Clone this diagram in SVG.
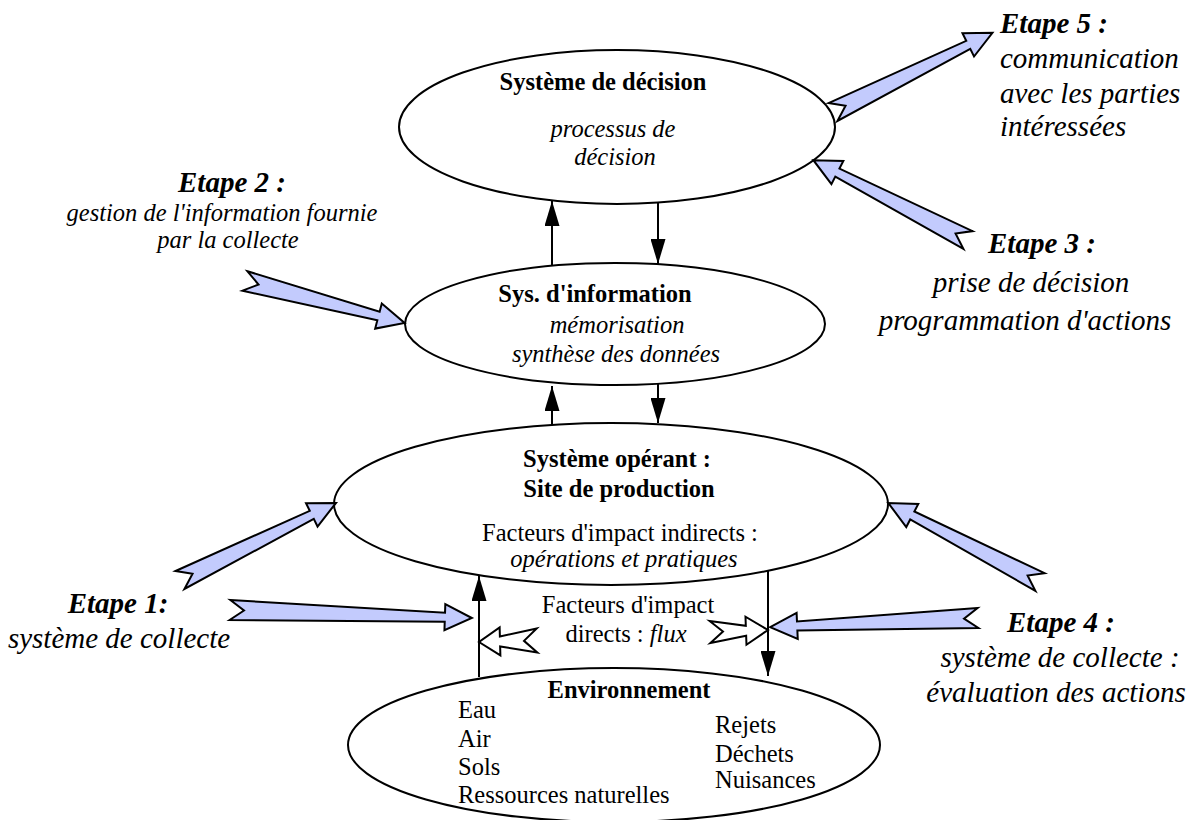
<svg xmlns="http://www.w3.org/2000/svg" width="1189" height="820" viewBox="0 0 1189 820">
<defs>
<style>
.ell{fill:#ffffff;stroke:#000000;stroke-width:2}
.t{font-family:'Liberation Serif',serif;font-size:24.5px;fill:#000000}
.e{font-family:'Liberation Serif',serif;font-size:29px;font-style:italic;fill:#000000}
.b{font-weight:bold}
.i{font-style:italic}
.m{text-anchor:middle}
.blue{fill:#c3cbfd;stroke:#000000;stroke-width:2;stroke-linejoin:miter}
.hollow{fill:#ffffff;stroke:#000000;stroke-width:2}
.ln{stroke:#000000;stroke-width:2;fill:none}
</style>
<marker id="ah" viewBox="0 0 10 10" refX="10" refY="5" markerWidth="25" markerHeight="15" markerUnits="userSpaceOnUse" orient="auto" preserveAspectRatio="none">
<path d="M0,0 L10,5 L0,10 Z" fill="#000000"/>
</marker>
</defs>
<rect width="1189" height="820" fill="#ffffff"/>

<g id="decision">
<ellipse class="ell" cx="617" cy="127" rx="218" ry="77"/>
<text class="t b m" x="603" y="90">Système de décision</text>
<text class="t i m" x="613" y="137">processus de</text>
<text class="t i m" x="615" y="165">décision</text>
</g>

<g id="information">
<ellipse class="ell" cx="615" cy="324" rx="210" ry="61"/>
<text class="t b m" x="595" y="302">Sys. d'information</text>
<text class="t i m" x="617" y="333">mémorisation</text>
<text class="t i m" x="616" y="362">synthèse des données</text>
</g>

<g id="operant">
<ellipse class="ell" cx="611" cy="504" rx="277" ry="81"/>
<text class="t b m" x="617" y="467">Système opérant :</text>
<text class="t b m" x="619" y="497">Site de production</text>
<text class="t m" x="620" y="541">Facteurs d'impact indirects :</text>
<text class="t i m" x="624" y="567">opérations et pratiques</text>
</g>

<g id="environnement">
<ellipse class="ell" cx="614" cy="745" rx="266" ry="77"/>
<text class="t b m" x="629" y="698">Environnement</text>
<text class="t" x="458" y="718">Eau</text>
<text class="t" x="458" y="747">Air</text>
<text class="t" x="458" y="775">Sols</text>
<text class="t" x="458" y="803">Ressources naturelles</text>
<text class="t" x="715" y="733">Rejets</text>
<text class="t" x="715" y="762">Déchets</text>
<text class="t" x="715" y="788">Nuisances</text>
</g>

<g id="flux">
<text class="t m" x="628" y="613">Facteurs d'impact</text>
<text class="t m" x="626" y="642">directs : <tspan class="i">flux</tspan></text>
</g>

<g id="connectors">
<line class="ln" x1="552" y1="265" x2="552" y2="201" marker-end="url(#ah)"/>
<line class="ln" x1="658" y1="203" x2="658" y2="264" marker-end="url(#ah)"/>
<line class="ln" x1="552" y1="424" x2="552" y2="386" marker-end="url(#ah)"/>
<line class="ln" x1="658" y1="384" x2="658" y2="423" marker-end="url(#ah)"/>
<line class="ln" x1="479" y1="677" x2="479" y2="576" marker-end="url(#ah)"/>
<line class="ln" x1="768" y1="571" x2="768" y2="676" marker-end="url(#ah)"/>
<polygon class="hollow" transform="translate(537,640.5) rotate(178.5)" points="0,-12 37,-5 37,-14 58,0 37,14 37,5 0,12 13,0"/>
<polygon class="hollow" transform="translate(710,632) rotate(-2)" points="0,-11 36,-5 36,-14 58,0 36,14 36,5 0,11 13,0"/>
<polygon class="blue" transform="translate(833,112) rotate(-26.4)" points="0,-10 151,-4.5 151,-13 178,0 151,13 151,4.5 0,10 14,0"/>
<polygon class="blue" transform="translate(968,240) rotate(-152.7)" points="0,-10 147,-4.5 147,-13 174,0 147,13 147,4.5 0,10 14,0"/>
<polygon class="blue" transform="translate(245,281) rotate(14.7)" points="0,-10 138,-4.5 138,-13 165,0 138,13 138,4.5 0,10 14,0"/>
<polygon class="blue" transform="translate(180,580) rotate(-26.3)" points="0,-10 147,-4.5 147,-13 174,0 147,13 147,4.5 0,10 14,0"/>
<polygon class="blue" transform="translate(230,610) rotate(1.9)" points="0,-10 215,-4.5 215,-13 242,0 215,13 215,4.5 0,10 14,0"/>
<polygon class="blue" transform="translate(1040,582) rotate(-152.5)" points="0,-10 144,-4.5 144,-13 171,0 144,13 144,4.5 0,10 14,0"/>
<polygon class="blue" transform="translate(978,618) rotate(177.5)" points="0,-10 181,-4.5 181,-13 208,0 181,13 181,4.5 0,10 14,0"/>
</g>

<g id="etape5">
<text class="e b" x="1000" y="33">Etape 5 :</text>
<text class="e" x="1000" y="68">communication</text>
<text class="e" x="1000" y="103">avec les parties</text>
<text class="e" x="1000" y="136">intéressées</text>
</g>
<g id="etape3">
<text class="e b m" x="1042" y="253">Etape 3 :</text>
<text class="e m" x="1031" y="292">prise de décision</text>
<text class="e m" x="1025" y="330">programmation d'actions</text>
</g>
<g id="etape2">
<text class="e b m" x="232" y="192">Etape 2 :</text>
<text class="t i m" x="222" y="221">gestion de l'information fournie</text>
<text class="t i m" x="228" y="248">par la collecte</text>
</g>
<g id="etape1">
<text class="e b m" x="118" y="613">Etape 1:</text>
<text class="e m" x="119" y="648">système de collecte</text>
</g>
<g id="etape4">
<text class="e b m" x="1061" y="632">Etape 4 :</text>
<text class="e m" x="1060" y="667">système de collecte :</text>
<text class="e m" x="1056" y="702">évaluation des actions</text>
</g>
</svg>
